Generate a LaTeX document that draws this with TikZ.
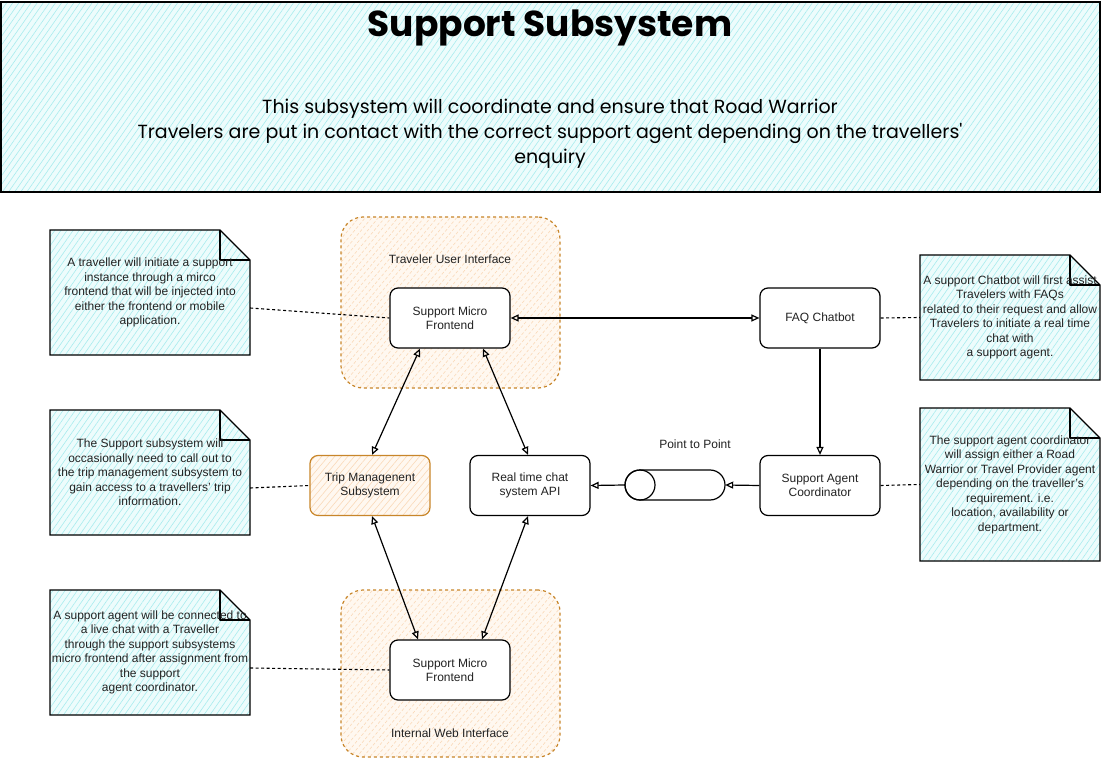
\documentclass[tikz,border=0pt]{standalone}
\usepackage{fontspec}
\setmainfont{Liberation Sans}
\newfontfamily\handfont{Poppins}
\usetikzlibrary{arrows.meta,patterns.meta,calc}
\definecolor{hatchcyan}{HTML}{A8ECEE}
\definecolor{bgcyan}{HTML}{EDFCFC}
\definecolor{grporange}{HTML}{C8862A}
\definecolor{hatchorange}{HTML}{FAD9B8}
\definecolor{bgorange}{HTML}{FFF8F0}
\definecolor{txt}{HTML}{222222}
\tikzset{
  cyanhatch/.style={preaction={fill=bgcyan}, pattern={Lines[angle=55,distance=5pt,line width=0.6pt]}, pattern color=hatchcyan},
  orangehatch/.style={preaction={fill=bgorange}, pattern={Lines[angle=50,distance=5pt,line width=0.6pt]}, pattern color=hatchorange},
  bodyfont/.style={font=\fontsize{12}{14.5}\selectfont, text=txt},
  box/.style={draw=black, line width=1.2pt, rounded corners=8pt, fill=white, minimum width=120pt, minimum height=60pt, align=center, bodyfont},
  tripbox/.style={box, draw=grporange, fill=none, orangehatch},
  grp/.style={draw=grporange, dashed, dash pattern=on 3pt off 3pt, line width=1.2pt, rounded corners=22pt, orangehatch},
  notestyle/.style={draw=black, line width=1.1pt, cyanhatch},
  notetext/.style={align=center, bodyfont, inner sep=0pt},
  dashline/.style={draw=black, line width=1.1pt, dash pattern=on 3pt off 2.5pt},
  arr/.style={draw=black, line width=1.2pt, -{Triangle[open,length=8pt,width=7pt]}},
  dblarr/.style={draw=black, line width=1.2pt, {Triangle[open,length=8pt,width=7pt]}-{Triangle[open,length=8pt,width=7pt]}},
  lbl/.style={bodyfont}
}
\newcommand\makenote[6]{%
  \draw[notestyle] (#2,#3) -- (#4-30,#3) -- (#4,#3+30) -- (#4,#5) -- (#2,#5) -- cycle;
  \draw[line width=1.1pt, line join=round] (#4-30,#3) -- (#4-30,#3+30) -- (#4,#3+30);
  \node[notetext, minimum width={(#4-#2)*1pt}, minimum height={(#5-#3)*1pt}] (#1) at ({(#2+#4)/2},{(#3+#5)/2}) {#6};
}
\begin{document}
\begin{tikzpicture}[x=1pt,y=-1pt]
\useasboundingbox (0,0) rectangle (1101,762);
\fill[white] (0,0) rectangle (1101,762);
% header
\draw[line width=2pt, cyanhatch] (1,2) rectangle (1100,192);
\node[font=\handfont\bfseries\fontsize{36}{42}\selectfont] (title) at (550,28) {Support Subsystem};
\node[font=\handfont\fontsize{19}{25}\selectfont, align=center] (subtitle) at (550,134) {This subsystem will coordinate and ensure that Road Warrior\\Travelers are put in contact with the correct support agent depending on the travellers'\\enquiry};
% groups
\node[grp, minimum width=219pt, minimum height=171pt] (g1) at (450.5,302.5) {};
\node[grp, minimum width=219pt, minimum height=167pt] (g2) at (450.5,673.5) {};
\node[lbl] (g1lbl) at (450,259) {Traveler User Interface};
\node[lbl] (g2lbl) at (450,733) {Internal Web Interface};
% boxes
\node[box] (smf1) at (450,318) {Support Micro\\Frontend};
\node[box] (smf2) at (450,670) {Support Micro\\Frontend};
\node[tripbox] (trip) at (370,485.5) {Trip Managenent\\Subsystem};
\node[box] (rtc) at (530,485.5) {Real time chat\\system API};
\node[box] (faq) at (820,318) {FAQ Chatbot};
\node[box] (sac) at (820,485.5) {Support Agent\\Coordinator};
% cylinder
\node[minimum width=100pt, minimum height=30pt, inner sep=0pt] (cyl) at (675,485) {};
\draw[line width=1.2pt, fill=white] (640,470) -- (710,470) arc[start angle=-90, end angle=90, radius=15] -- (640,500) arc[start angle=90, end angle=270, radius=15] -- cycle;
\draw[line width=1.2pt] (640,485) circle[radius=15];
\node[lbl] (cyllbl) at (695,444) {Point to Point};
% notes
\makenote{n1}{50}{230}{250}{355}{A traveller will initiate a support\\instance through a mirco\\frontend that will be injected into\\either the frontend or mobile\\application.}
\makenote{n2}{50}{410}{250}{535}{The Support subsystem will\\occasionally need to call out to\\the trip management subsystem to\\gain access to a travellers' trip\\information.}
\makenote{n3}{50}{590}{250}{715}{A support agent will be connected to\\a live chat with a Traveller\\through the support subsystems\\micro frontend after assignment from\\the support\\agent coordinator.}
\makenote{n4}{920}{255}{1100}{380}{A support Chatbot will first assist\\Travelers with FAQs\\related to their request and allow\\Travelers to initiate a real time\\chat with\\a support agent.}
\makenote{n5}{920}{408}{1100}{561}{The support agent coordinator\\will assign either a Road\\Warrior or Travel Provider agent\\depending on the traveller's\\requirement. i.e.\\location, availability or\\department.}
% dashed connectors
\draw[dashline] ($(n1.east)+(0,15.5)$) -- (smf1.west);
\draw[dashline] ($(n2.east)+(0,15.5)$) -- (trip.west);
\draw[dashline] ($(n3.east)+(0,15.5)$) -- (smf2.west);
\draw[dashline] (faq.east) -- (n4.west);
\draw[dashline] (sac.east) -- (n5.west);
% arrows
\draw[dblarr] (smf1.east) -- (faq.west);
\draw[dblarr] ($(smf1.south)+(-30,0)$) -- ($(trip.north)+(2,0)$);
\draw[dblarr] ($(smf1.south)+(33,0)$) -- ($(rtc.north)+(-2,0)$);
\draw[arr] (faq.south) -- (sac.north);
\draw[arr] (sac.west) -- (cyl.east);
\draw[arr] (cyl.west) -- (rtc.east);
\draw[dblarr] ($(trip.south)+(2,0)$) -- ($(smf2.north)+(-32,0)$);
\draw[dblarr] ($(rtc.south)+(-2,0)$) -- ($(smf2.north)+(32,0)$);
\end{tikzpicture}
\end{document}
